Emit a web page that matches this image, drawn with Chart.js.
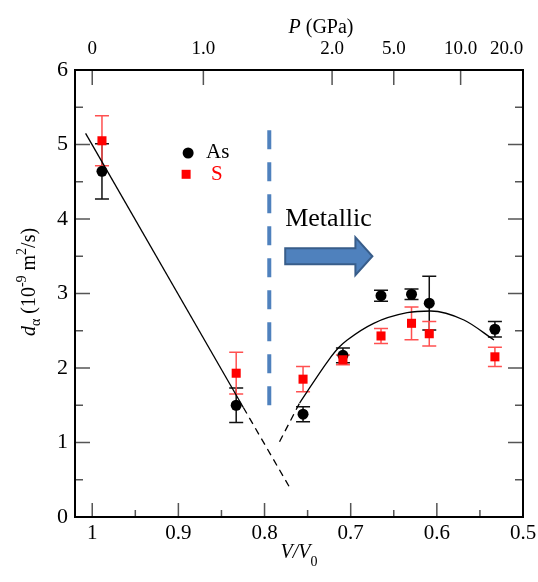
<!DOCTYPE html>
<html>
<head>
<meta charset="utf-8">
<script src="https://cdn.jsdelivr.net/npm/chart.js@4/dist/chart.umd.min.js"></script>
<style>
  html, body { margin: 0; padding: 0; background: #fff; }
</style>
</head>
<body>
<canvas id="chart" width="538" height="582"></canvas>
<script>
// measured points, V/V0 on x
const volumeRatio = [0.9887, 0.8329, 0.7553, 0.709, 0.6648, 0.6294, 0.6088, 0.5326];
const asValues = [4.64, 1.50, 1.38, 2.17, 2.97, 2.99, 2.87, 2.52];
const asErrors = [0.37, 0.23, 0.10, 0.10, 0.075, 0.07, 0.36, 0.105];
const sValues = [5.05, 1.93, 1.85, 2.11, 2.43, 2.60, 2.46, 2.15];
const sErrors = [0.335, 0.28, 0.17, 0.065, 0.10, 0.22, 0.165, 0.13];

// guide lines
const linearFitV = [1.0077, 0.8246];
const linearFitD = [5.15, 1.47];
const linearExtV = [0.8246, 0.771];
const linearExtD = [1.47, 0.40];
const curveExtV = [0.7826, 0.7593];
const curveExtD = [1.01, 1.53];
const curveV = [0.7593, 0.7256, 0.7136, 0.704, 0.6733, 0.6344, 0.6073, 0.5686, 0.5337];
const curveD = [1.53, 2.107, 2.278, 2.376, 2.60, 2.742, 2.765, 2.644, 2.376];
const boundaryV = [0.7945, 0.7945];
const boundaryD = [5.19, 1.44];
const arrowV = [0.776, 0.6748];
const arrowD = 3.50;

// axes
const vTicks = [1, 0.9, 0.8, 0.7, 0.6, 0.5];
const vTickLabels = ['1', '0.9', '0.8', '0.7', '0.6', '0.5'];
const vMinorTicks = [0.95, 0.85, 0.75, 0.65, 0.55];
const dTicks = [0, 1, 2, 3, 4, 5, 6];
const dMinorTicks = [0.5, 1.5, 2.5, 3.5, 4.5, 5.5];
const pTickPos = [1.0, 0.871, 0.7216, 0.650, 0.5724, 0.519];
const pTickLabels = ['0', '1.0', '2.0', '5.0', '10.0', '20.0'];
const pTickMarked = [true, true, true, true, true, false];

const serif = '"Liberation Serif", "DejaVu Serif", serif';

function points(xs, ys) {
    return xs.map((v, i) => ({x: v, y: ys[i]}));
}

function drawErrors(ctx, x, y, values, errors, color) {
    ctx.save();
    ctx.strokeStyle = color;
    ctx.lineWidth = 1.5;
    for (let i = 0; i < values.length; i++) {
        const px = x.getPixelForValue(volumeRatio[i]);
        const top = y.getPixelForValue(values[i] + errors[i]);
        const bot = y.getPixelForValue(values[i] - errors[i]);
        ctx.beginPath();
        ctx.moveTo(px, top); ctx.lineTo(px, bot);
        ctx.moveTo(px - 7, top); ctx.lineTo(px + 7, top);
        ctx.moveTo(px - 7, bot); ctx.lineTo(px + 7, bot);
        ctx.stroke();
    }
    ctx.restore();
}

function drawPieces(ctx, pieces, x0, y0) {
    let cx = x0;
    for (const p of pieces) {
        ctx.font = p.font;
        ctx.fillText(p.text, cx, y0 + (p.dy || 0));
        cx += ctx.measureText(p.text).width;
    }
}

function piecesWidth(ctx, pieces) {
    let w = 0;
    for (const p of pieces) {
        ctx.font = p.font;
        w += ctx.measureText(p.text).width;
    }
    return w;
}

const decorPlugin = {
    id: 'decor',
    beforeDatasetsDraw(chart) {
        const {ctx, scales: {x, y}} = chart;
        drawErrors(ctx, x, y, asValues, asErrors, '#111');
        drawErrors(ctx, x, y, sValues, sErrors, '#ff5050');
    },
    afterDraw(chart) {
        const {ctx, chartArea: a, scales: {x, y, x2}} = chart;
        ctx.save();

        // ticks pointing inward
        ctx.strokeStyle = '#555';
        ctx.lineWidth = 1.5;
        ctx.beginPath();
        vTicks.forEach(v => {
            const px = x.getPixelForValue(v);
            ctx.moveTo(px, a.bottom); ctx.lineTo(px, a.bottom - 14);
        });
        vMinorTicks.forEach(v => {
            const px = x.getPixelForValue(v);
            ctx.moveTo(px, a.bottom); ctx.lineTo(px, a.bottom - 7);
        });
        dTicks.forEach(v => {
            const py = y.getPixelForValue(v);
            ctx.moveTo(a.left, py); ctx.lineTo(a.left + 15, py);
            ctx.moveTo(a.right, py); ctx.lineTo(a.right - 15, py);
        });
        dMinorTicks.forEach(v => {
            const py = y.getPixelForValue(v);
            ctx.moveTo(a.left, py); ctx.lineTo(a.left + 8, py);
            ctx.moveTo(a.right, py); ctx.lineTo(a.right - 8, py);
        });
        pTickPos.forEach((v, i) => {
            if (!pTickMarked[i]) return;
            const px = x2.getPixelForValue(v);
            ctx.moveTo(px, a.top); ctx.lineTo(px, a.top + 15);
        });
        ctx.stroke();

        // frame
        ctx.strokeStyle = '#000';
        ctx.lineWidth = 2;
        ctx.strokeRect(a.left, a.top, a.right - a.left, a.bottom - a.top);

        // legend
        const lx = x.getPixelForValue(0.8887);
        const ly1 = y.getPixelForValue(4.886);
        const ly2 = y.getPixelForValue(4.60);
        ctx.fillStyle = '#000';
        ctx.beginPath();
        ctx.arc(lx, ly1, 5.5, 0, Math.PI * 2);
        ctx.fill();
        ctx.font = '21px ' + serif;
        ctx.textBaseline = 'alphabetic';
        ctx.fillText('As', lx + 18, ly1 + 5);
        ctx.fillStyle = '#ff0000';
        ctx.fillRect(lx - 6.5, ly2 - 4.5, 9, 9);
        ctx.fillText('S', lx + 23, ly2 + 6);

        // arrow + label
        const ax0 = x.getPixelForValue(arrowV[0]);
        const ax1 = x.getPixelForValue(arrowV[1]);
        const ay = y.getPixelForValue(arrowD);
        const head = 17;
        ctx.beginPath();
        ctx.moveTo(ax0, ay - 8);
        ctx.lineTo(ax1 - head, ay - 8);
        ctx.lineTo(ax1 - head, ay - 19);
        ctx.lineTo(ax1, ay);
        ctx.lineTo(ax1 - head, ay + 19);
        ctx.lineTo(ax1 - head, ay + 8);
        ctx.lineTo(ax0, ay + 8);
        ctx.closePath();
        ctx.fillStyle = '#4f81bd';
        ctx.fill();
        ctx.strokeStyle = '#385d8a';
        ctx.lineWidth = 2;
        ctx.stroke();
        ctx.fillStyle = '#000';
        ctx.font = '26px ' + serif;
        ctx.fillText('Metallic', ax0, y.getPixelForValue(3.906));

        // axis titles
        const it20 = 'italic 20px ' + serif;
        const rm20 = '20px ' + serif;
        const rm14 = '14px ' + serif;
        const topTitle = [{text: 'P', font: it20}, {text: ' (GPa)', font: rm20}];
        const tw = piecesWidth(ctx, topTitle);
        drawPieces(ctx, topTitle, (a.left + a.right) / 2 + 22 - tw / 2, 33);

        const botTitle = [{text: 'V/V', font: it20}, {text: '0', font: rm14, dy: 8}];
        const bw = piecesWidth(ctx, botTitle);
        drawPieces(ctx, botTitle, (a.left + a.right) / 2 - bw / 2, 558);

        const yTitle = [
            {text: 'd', font: it20},
            {text: 'α', font: rm14, dy: 5},
            {text: ' (10', font: rm20},
            {text: '-9', font: rm14, dy: -9},
            {text: ' m', font: rm20},
            {text: '2', font: rm14, dy: -9},
            {text: '/s)', font: rm20}
        ];
        const yw = piecesWidth(ctx, yTitle);
        ctx.translate(35, 282);
        ctx.rotate(-Math.PI / 2);
        drawPieces(ctx, yTitle, -yw / 2, 0);
        ctx.restore();
    }
};

const tickFont = {family: serif, size: 20};

new Chart(document.getElementById('chart'), {
    type: 'scatter',
    data: {
        datasets: [
            {
                label: 'S',
                data: points(volumeRatio, sValues),
                pointStyle: 'rect',
                pointRadius: 6.4,
                backgroundColor: '#ff0000',
                borderWidth: 0
            },
            {
                label: 'As',
                data: points(volumeRatio, asValues),
                pointStyle: 'circle',
                pointRadius: 5.5,
                backgroundColor: '#000',
                borderWidth: 0
            },
            {
                data: points(linearFitV, linearFitD),
                showLine: true, pointRadius: 0,
                borderColor: '#000', borderWidth: 1.3
            },
            {
                data: points(linearExtV, linearExtD),
                showLine: true, pointRadius: 0,
                borderColor: '#000', borderWidth: 1.3, borderDash: [7, 5]
            },
            {
                data: points(curveExtV, curveExtD),
                showLine: true, pointRadius: 0,
                borderColor: '#000', borderWidth: 1.3, borderDash: [7, 5]
            },
            {
                data: points(curveV, curveD),
                showLine: true, pointRadius: 0,
                borderColor: '#000', borderWidth: 1.3,
                cubicInterpolationMode: 'monotone'
            },
            {
                data: points(boundaryV, boundaryD),
                showLine: true, pointRadius: 0,
                borderColor: '#4f81bd', borderWidth: 4, borderDash: [19, 13]
            }
        ]
    },
    options: {
        responsive: false,
        animation: false,
        layout: {padding: {left: 0, right: 15, top: 0, bottom: 0}},
        plugins: {legend: {display: false}, tooltip: {enabled: false}},
        scales: {
            x: {
                type: 'linear', position: 'bottom', reverse: true, min: 0.5, max: 1.02,
                afterBuildTicks: s => { s.ticks = vTicks.map(v => ({value: v})); },
                afterFit: s => { s.height = 65; s.paddingLeft = 0; s.paddingRight = 0; },
                grid: {display: false, drawTicks: false},
                border: {display: false},
                ticks: {
                    font: {family: serif, size: 21}, color: '#000', padding: 4, maxRotation: 0, autoSkip: false,
                    callback: (v, i) => vTickLabels[i]
                }
            },
            x2: {
                type: 'linear', position: 'top', reverse: true, min: 0.5, max: 1.02,
                afterBuildTicks: s => { s.ticks = pTickPos.map(v => ({value: v})); },
                afterFit: s => { s.height = 70; s.paddingLeft = 0; s.paddingRight = 0; },
                grid: {display: false, drawTicks: false},
                border: {display: false},
                ticks: {
                    font: {family: serif, size: 19}, color: '#000', padding: 10, maxRotation: 0, autoSkip: false,
                    callback: (v, i) => pTickLabels[i]
                }
            },
            y: {
                type: 'linear', position: 'left', min: 0, max: 6,
                afterBuildTicks: s => { s.ticks = dTicks.map(v => ({value: v})); },
                afterFit: s => { s.width = 75; s.paddingTop = 0; s.paddingBottom = 0; },
                grid: {display: false, drawTicks: false},
                border: {display: false},
                ticks: {font: {family: serif, size: 22}, color: '#000', padding: 7}
            }
        }
    },
    plugins: [decorPlugin]
});
</script>
</body>
</html>
